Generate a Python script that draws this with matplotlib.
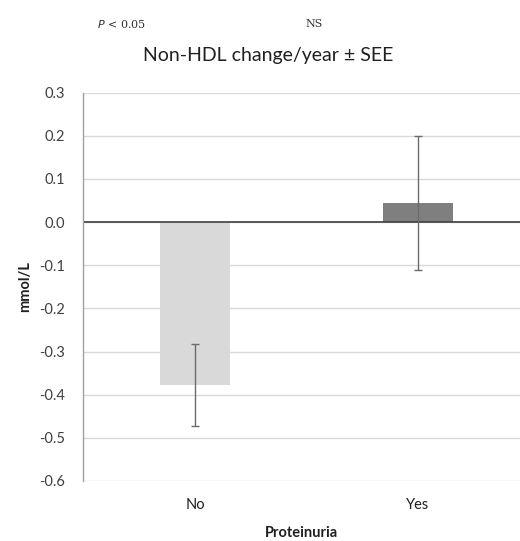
import matplotlib
matplotlib.use("Agg")
import matplotlib.pyplot as plt
import numpy as np

categories = ["No", "Yes"]
values = [-0.378, 0.044]
errors = [0.095, 0.155]
bar_colors = ["#d9d9d9", "#7f7f7f"]
yticks = [0.3, 0.2, 0.1, 0.0, -0.1, -0.2, -0.3, -0.4, -0.5, -0.6]

plt.rcParams['font.family'] = ['Lato', 'DejaVu Sans']

fig = plt.figure(figsize=(5.2, 5.41), dpi=100)
W, H = 520, 541
left, right, top, bottom = 83, 520, 92.5, 481
ax = fig.add_axes([left / W, (H - bottom) / H, (right - left) / W, (bottom - top) / H])

x = np.arange(len(categories))
ax.bar(x, values, width=0.314, color=bar_colors, zorder=2)
ax.errorbar(x, values, yerr=errors, fmt='none', ecolor='#6b6b6b', elinewidth=1.0,
            capsize=3, capthick=1.0, zorder=3)

ax.set_ylim(-0.6, 0.3)
ax.set_xlim(-0.502, 1.457)
ax.set_yticks(yticks)
ax.set_yticklabels([f"{v:.1f}" for v in yticks], fontsize=10.5, color='#404040')
ax.set_xticks(x)
ax.set_xticklabels(categories, fontsize=10.5, color='#202020')
ax.tick_params(axis='y', length=0, pad=13)
ax.tick_params(axis='x', length=0, pad=12)
ax.yaxis.grid(True, color='#d9d9d9', linewidth=1.0, zorder=0)
ax.set_axisbelow(True)
ax.axhline(0, color='#404040', linewidth=1.2, zorder=2.5)
for s in ['top', 'right', 'bottom']:
    ax.spines[s].set_visible(False)
ax.spines['left'].set_color('#a0a0a0')
ax.spines['left'].set_linewidth(1.0)

ax.set_ylabel("mmol/L", fontsize=10.5, fontweight='bold', color='#202020', labelpad=5)
ax.set_xlabel("Proteinuria", fontsize=10.5, fontweight='bold', color='#202020', labelpad=10)

fig.text(268 / W, 1 - 56 / H, "Non-HDL change/year \u00b1 SEE", ha='center', va='center',
         fontsize=14, color='#202020')
fig.text(97 / W, 1 - 24 / H, "$P$ < 0.05", ha='left', va='center', fontsize=8,
         family='DejaVu Serif', color='#303030')
fig.text(314 / W, 1 - 24 / H, "NS", ha='center', va='center', fontsize=8,
         family='DejaVu Serif', color='#303030')

fig.savefig("out.png", dpi=100)
